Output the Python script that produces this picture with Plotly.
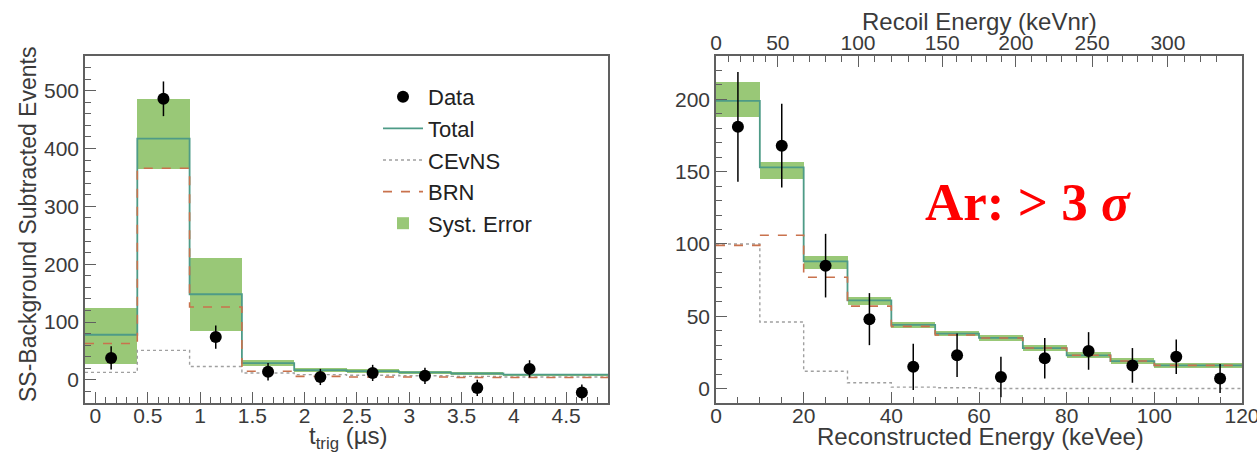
import numpy as np
import plotly.graph_objects as go

# ---------------- data: left panel (timing) ----------------
t_edges = [-0.1, 0.4, 0.9, 1.4, 1.9, 2.4, 2.9, 3.4, 3.9, 4.4, 4.9]
t_centers = [0.15, 0.65, 1.15, 1.65, 2.15, 2.65, 3.15, 3.65, 4.15, 4.65]
data_left = [38, 486, 74, 14, 5, 12, 7, -14, 19, -22]
err_left = [20, 30, 20, 15, 14, 14, 14, 14, 15, 14]
total_left = [78, 417, 148, 29, 17, 15, 13, 11, 9, 9]
syst_lo_left = [28, 365, 84, 24, 14, 12, 10, 9, 7, 7]
syst_hi_left = [125, 485, 211, 34, 20, 18, 16, 13, 11, 11]
cevns_left = [13, 51, 23, 12, 9, 8, 7, 6, 5, 5]
brn_left = [63, 366, 126, 15, 6, 5, 5, 4, 4, 4]

# ---------------- data: right panel (energy) ----------------
e_edges = [0, 10, 20, 30, 40, 50, 60, 70, 80, 90, 100, 110, 120]
e_centers = [5, 15, 25, 35, 45, 55, 65, 75, 85, 95, 105, 115]
data_right = [181, 168, 85, 48, 15, 23, 8, 21, 26, 16, 22, 7]
err_right = [38, 29, 22, 18, 16, 15, 14, 14, 13, 12, 12, 10]
total_right = [199, 153, 88, 61, 44, 38, 35, 28, 23, 19, 16, 16]
syst_lo_right = [188, 145, 83, 58, 42, 36, 33, 26, 21, 17, 14, 14]
syst_hi_right = [212, 157, 92, 63, 46, 40, 37, 30, 25, 21, 18, 18]
cevns_right = [100, 46, 12, 4, 1, 0.5, 0, 0, 0, 0, 0, 0]
brn_right = [99, 106, 77, 57, 43, 37, 35, 28, 23, 19, 16, 16]

# bottom axis tick labels (keVee)
ee_ticks = [0, 20, 40, 60, 80, 100, 120]
# top axis: recoil energy (keVnr) labels and their keVee positions
nr_labels = ["0", "50", "100", "150", "200", "250", "300"]
nr_values = [0, 50, 100, 150, 200, 250, 300]
nr_pos_keVee = [0, 14.1, 32.4, 51.6, 68.4, 85.8, 103.1]

W, H = 1257, 455
GREEN = "rgba(135,190,95,0.85)"
TOTAL_C = "#4e9b87"
BRN_C = "#c9724d"
CEV_C = "#a0a0a0"
AX_C = "#606060"
TXT_C = "#3a3a3a"
FONT = "Liberation Sans, Arial, sans-serif"


def step(edges, vals):
    return list(edges), list(vals) + [vals[-1]]


fig = go.Figure()

# ---- left panel ----
wl = [t_edges[i + 1] - t_edges[i] for i in range(len(t_centers))]
fig.add_trace(go.Bar(x=t_centers, y=[h - l for h, l in zip(syst_hi_left, syst_lo_left)],
                     base=syst_lo_left, width=wl, marker=dict(color=GREEN, line=dict(width=0)),
                     name="Syst. Error", legendgroup="e", legendrank=5, xaxis="x", yaxis="y"))
xs, ys = step(t_edges, total_left)
fig.add_trace(go.Scatter(x=xs, y=ys, mode="lines", line=dict(shape="hv", color=TOTAL_C, width=1.8),
                         name="Total", legendgroup="b", legendrank=2, xaxis="x", yaxis="y"))
xs, ys = step(t_edges, cevns_left)
fig.add_trace(go.Scatter(x=xs, y=ys, mode="lines", line=dict(shape="hv", color=CEV_C, width=1.4, dash="dot"),
                         name="CEvNS", legendgroup="c", legendrank=3, xaxis="x", yaxis="y"))
xs, ys = step(t_edges, brn_left)
fig.add_trace(go.Scatter(x=xs, y=ys, mode="lines", line=dict(shape="hv", color=BRN_C, width=1.6, dash="dash"),
                         name="BRN", legendgroup="d", legendrank=4, xaxis="x", yaxis="y"))
fig.add_trace(go.Scatter(x=t_centers, y=data_left, mode="markers",
                         marker=dict(color="black", size=12),
                         error_y=dict(type="data", array=err_left, width=0, thickness=1.5, color="black"),
                         name="Data", legendgroup="a", legendrank=1, xaxis="x", yaxis="y"))

# ---- right panel ----
wr = [e_edges[i + 1] - e_edges[i] for i in range(len(e_centers))]
fig.add_trace(go.Bar(x=e_centers, y=[h - l for h, l in zip(syst_hi_right, syst_lo_right)],
                     base=syst_lo_right, width=wr, marker=dict(color=GREEN, line=dict(width=0)),
                     showlegend=False, xaxis="x2", yaxis="y2"))
xs, ys = step(e_edges, total_right)
fig.add_trace(go.Scatter(x=xs, y=ys, mode="lines", line=dict(shape="hv", color=TOTAL_C, width=1.8),
                         showlegend=False, xaxis="x2", yaxis="y2"))
xs, ys = step(e_edges, cevns_right)
fig.add_trace(go.Scatter(x=xs, y=ys, mode="lines", line=dict(shape="hv", color=CEV_C, width=1.4, dash="dot"),
                         showlegend=False, xaxis="x2", yaxis="y2"))
xs, ys = step(e_edges, brn_right)
fig.add_trace(go.Scatter(x=xs, y=ys, mode="lines", line=dict(shape="hv", color=BRN_C, width=1.6, dash="dash"),
                         showlegend=False, xaxis="x2", yaxis="y2"))
fig.add_trace(go.Scatter(x=e_centers, y=data_right, mode="markers",
                         marker=dict(color="black", size=12),
                         error_y=dict(type="data", array=err_right, width=0, thickness=1.5, color="black"),
                         showlegend=False, xaxis="x2", yaxis="y2"))
# invisible trace so the top (keVnr) axis is drawn
fig.add_trace(go.Scatter(x=e_centers, y=data_right, mode="markers", marker=dict(opacity=0),
                         hoverinfo="skip", showlegend=False, xaxis="x3", yaxis="y2"))

ydom = [1 - 403 / H, 1 - 56 / H]
common = dict(showline=True, linecolor=AX_C, linewidth=1.5, ticks="inside", tickcolor=AX_C,
              ticklen=11, tickwidth=1.2, showgrid=False, zeroline=False, automargin=False,
              tickfont=dict(family=FONT, size=21, color=TXT_C))

fig.update_layout(
    width=W, height=H, margin=dict(l=0, r=0, t=0, b=0, autoexpand=False),
    paper_bgcolor="white", plot_bgcolor="white", barmode="overlay", bargap=0,
    font=dict(family=FONT, color=TXT_C),
    xaxis=dict(domain=[85 / W, 608 / W], range=[-0.1, 4.9], anchor="y", tick0=0, dtick=0.5, mirror=True,
               ticklabelstandoff=-7,
               minor=dict(ticks="inside", dtick=0.1, ticklen=6, tickcolor=AX_C), **common),
    yaxis=dict(domain=ydom, range=[-40, 560], anchor="x", dtick=100, mirror=True,
               minor=dict(ticks="inside", dtick=20, ticklen=6, tickcolor=AX_C), **common),
    xaxis2=dict(domain=[716 / W, 1242 / W], range=[0, 120], anchor="y2", mirror=True,
                tickmode="array", tickvals=ee_ticks, ticklabelstandoff=-7, ticklabeloverflow="allow",
                minor=dict(ticks="inside", dtick=5, ticklen=6, tickcolor=AX_C), **common),
    yaxis2=dict(domain=ydom, range=[-10, 230], anchor="x2", dtick=50, mirror=True,
                minor=dict(ticks="inside", dtick=10, ticklen=6, tickcolor=AX_C), **common),
    xaxis3=dict(overlaying="x2", side="top", anchor="y2", range=[0, 120],
                tickmode="array", tickvals=nr_pos_keVee, ticktext=nr_labels, ticklabelstandoff=-4,
                minor=dict(ticks="inside", ticklen=6, tickcolor=AX_C,
                           tickvals=list(np.interp(np.arange(10, 340, 10), nr_values + [340], nr_pos_keVee + [118]))),
                **common),
    legend=dict(x=378 / W, y=1 - 76 / H, xanchor="left", yanchor="top", bgcolor="rgba(0,0,0,0)",
                font=dict(family=FONT, size=22, color="#222"), tracegroupgap=0, itemwidth=40),
)

ann = [
    dict(text="SS-Background Subtracted Events", x=28 / W, y=1 - 225 / H, textangle=-90, size=23),
    dict(text="t<sub>trig</sub> (µs)", x=348 / W, y=1 - 437 / H, textangle=0, size=24),
    dict(text="Reconstructed Energy (keVee)", x=980 / W, y=1 - 436 / H, textangle=0, size=24),
    dict(text="Recoil Energy (keVnr)", x=979 / W, y=1 - 21 / H, textangle=0, size=24),
]
for a in ann:
    fig.add_annotation(text=a["text"], x=a["x"], y=a["y"], xref="paper", yref="paper",
                       xanchor="center", yanchor="middle", textangle=a["textangle"], showarrow=False,
                       font=dict(family=FONT, size=a["size"], color=TXT_C))
fig.add_annotation(text="<b>Ar: &gt; 3 <i>σ</i></b>", x=1028 / W, y=1 - 202 / H, xref="paper", yref="paper",
                   xanchor="center", yanchor="middle", showarrow=False,
                   font=dict(family="Liberation Serif, Times New Roman, serif", size=53, color="#ff0000"))

fig.write_html("out.html")
